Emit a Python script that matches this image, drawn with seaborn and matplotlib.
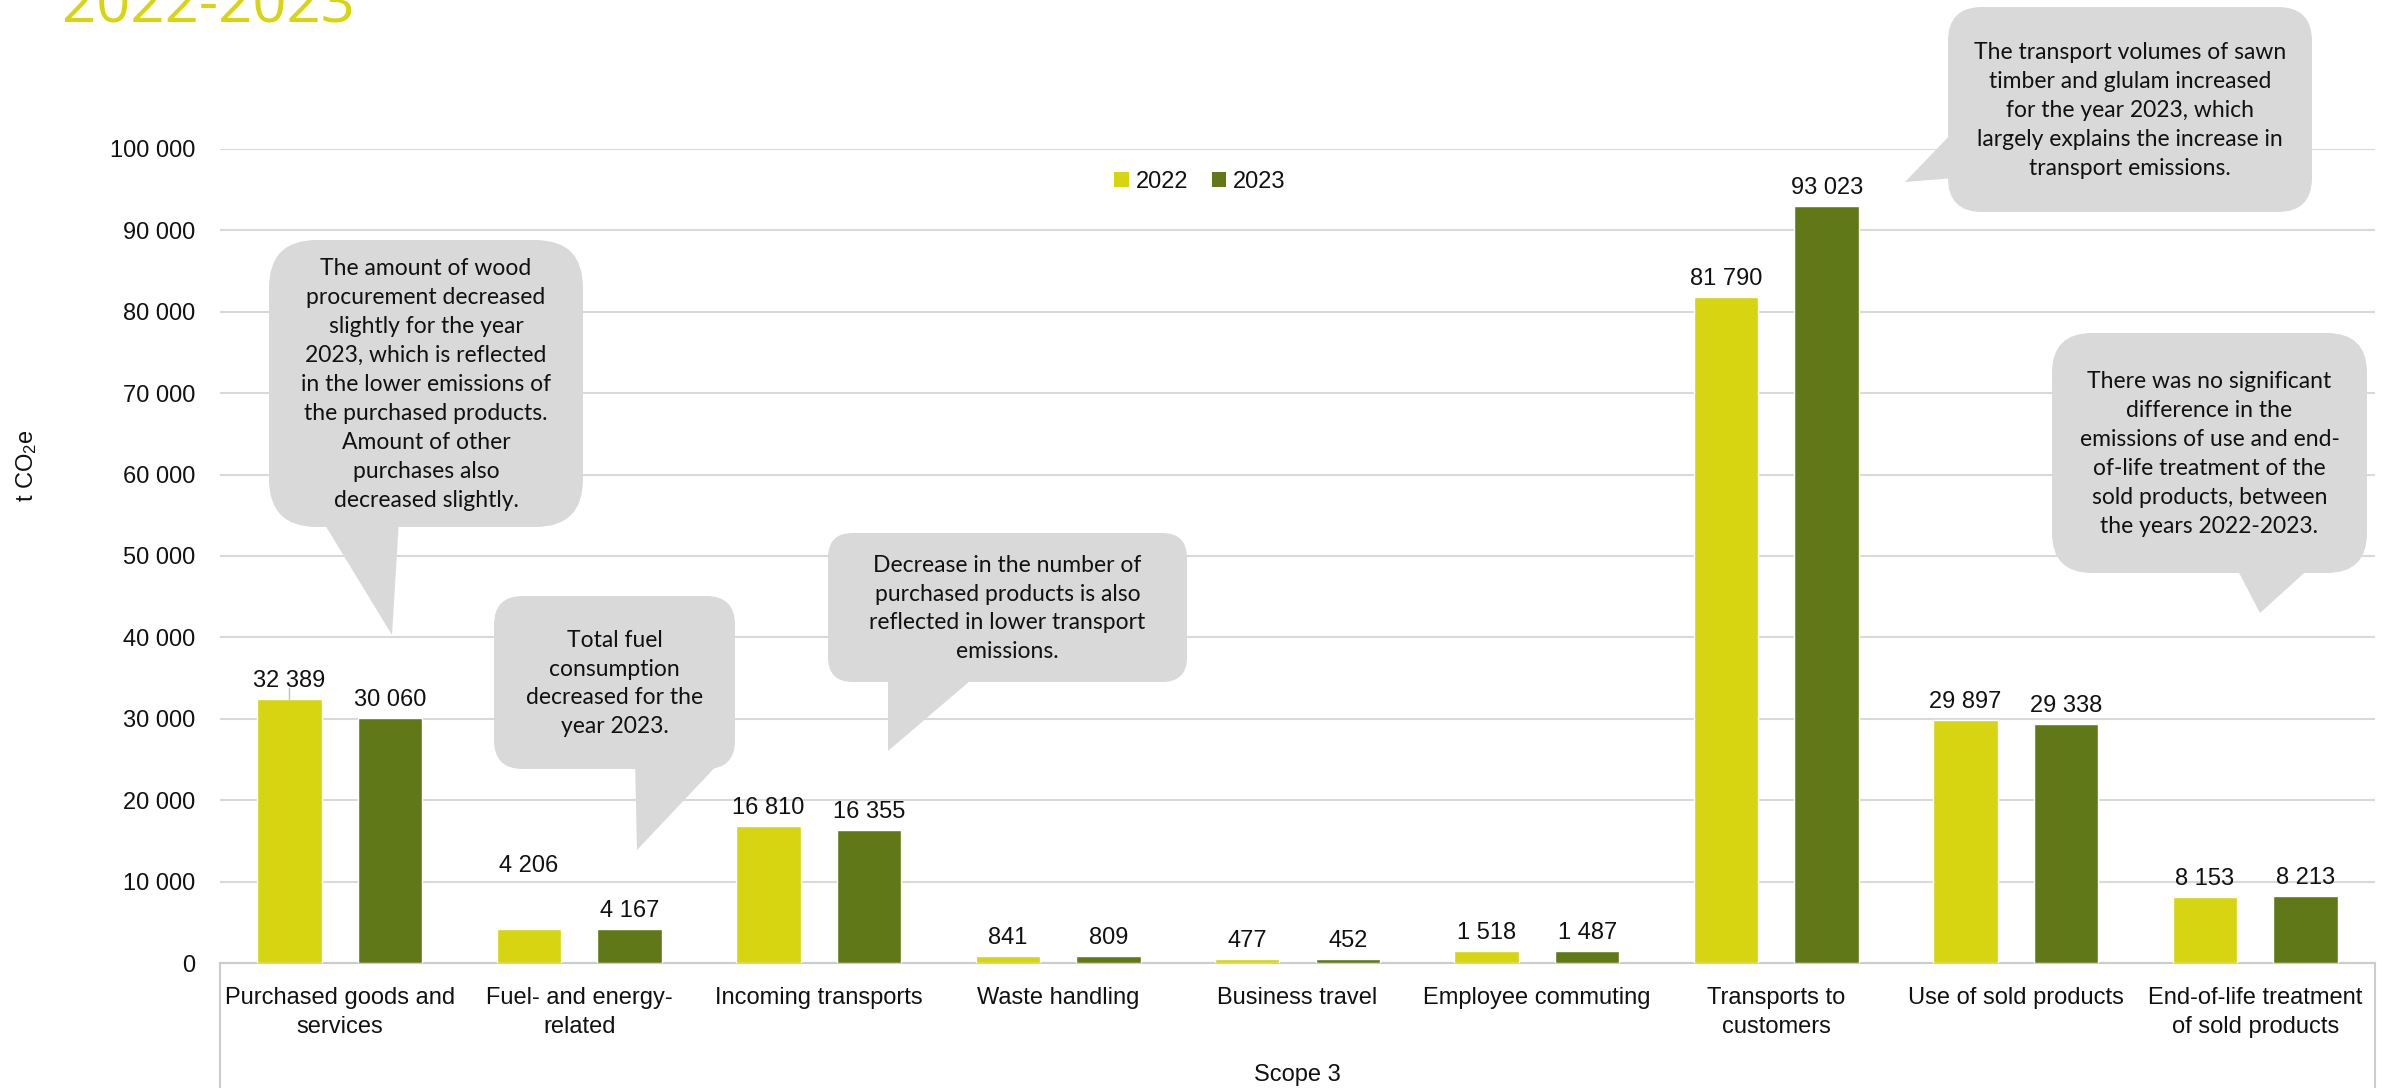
import matplotlib
matplotlib.use("Agg")
import matplotlib.pyplot as plt
import pandas as pd
import seaborn as sns
from matplotlib.patches import FancyBboxPatch, Polygon, Patch
from matplotlib.transforms import Affine2D
from matplotlib.lines import Line2D

# ---- data -------------------------------------------------------------
categories = [
    "Purchased goods and\nservices",
    "Fuel- and energy-\nrelated",
    "Incoming transports",
    "Waste handling",
    "Business travel",
    "Employee commuting",
    "Transports to\ncustomers",
    "Use of sold products",
    "End-of-life treatment\nof sold products",
]
years = ["2022", "2023"]
emissions_2022 = [32389, 4206, 16810, 841, 477, 1518, 81790, 29897, 8153]
emissions_2023 = [30060, 4167, 16355, 809, 452, 1487, 93023, 29338, 8213]
y_ticks = [0, 10000, 20000, 30000, 40000, 50000, 60000, 70000, 80000, 90000, 100000]
group_label = "Scope 3"
y_label = "t CO$_2$e"
title = "2022-2023"

note_texts = [
    "The amount of wood\nprocurement decreased\nslightly for the year\n2023, which is reflected\n"
    "in the lower emissions of\nthe purchased products.\nAmount of other\npurchases also\ndecreased slightly.",
    "Total fuel\nconsumption\ndecreased for the\nyear 2023.",
    "Decrease in the number of\npurchased products is also\nreflected in lower transport\nemissions.",
    "The transport volumes of sawn\ntimber and glulam increased\nfor the year 2023, which\n"
    "largely explains the increase in\ntransport emissions.",
    "There was no significant\ndifference in the\nemissions of use and end-\nof-life treatment of the\n"
    "sold products, between\nthe years 2022-2023.",
]

# ---- styling ----------------------------------------------------------
sns.set_style("white")
plt.rcParams["font.family"] = ["Liberation Sans", "DejaVu Sans"]
plt.rcParams["mathtext.fontset"] = "custom"
plt.rcParams["mathtext.rm"] = "Liberation Sans"
plt.rcParams["mathtext.it"] = "Liberation Sans:italic"
plt.rcParams["mathtext.bf"] = "Liberation Sans:bold"
plt.rcParams["mathtext.default"] = "regular"

LIME = "#d7d511"
OLIVE = "#607818"
GRID = "#d9d9d9"
AXIS = "#cccccc"
BUBBLE = "#d9d9d9"
INK = "#111111"
FS = 17

W, H = 2392, 1088
fig = plt.figure(figsize=(W / 100, H / 100), dpi=100)
fig.patch.set_facecolor("white")

# plot area in pixels (left, top, right, bottom)
px_l, px_t, px_r, px_b = 220, 149, 2375, 963
ax = fig.add_axes([px_l / W, 1 - px_b / H, (px_r - px_l) / W, (px_b - px_t) / H])

df = pd.DataFrame({
    "category": categories * 2,
    "year": [years[0]] * len(categories) + [years[1]] * len(categories),
    "value": emissions_2022 + emissions_2023,
})

sns.barplot(
    data=df, x="category", y="value", hue="year", hue_order=years,
    palette=[LIME, OLIVE], width=0.84, gap=0.36, saturation=1,
    legend=False, ax=ax, zorder=3,
)

ax.set_ylim(0, 100000)
ax.set_xlim(-0.5, len(categories) - 0.5)
ax.set_yticks(y_ticks)
ax.set_yticklabels([f"{v:,}".replace(",", " ") for v in y_ticks])
ax.yaxis.grid(True, color=GRID, linewidth=1.5)
ax.set_axisbelow(True)
for side in ("top", "left", "right"):
    ax.spines[side].set_visible(False)
ax.spines["bottom"].set_color(AXIS)
ax.spines["bottom"].set_linewidth(1.5)
ax.tick_params(axis="y", length=0, pad=18, labelsize=FS, labelcolor=INK)
ax.tick_params(axis="x", length=0, pad=17, labelsize=FS, labelcolor=INK)
for lbl in ax.get_xticklabels():
    lbl.set_linespacing(1.45)
    lbl.set_multialignment("center")

ax.set_xlabel("")
ax.set_ylabel(y_label, fontsize=FS, color=INK)
ax.yaxis.set_label_coords(-0.084, 0.611)

# category box lines below the axis
for xa in (0.0, 1.0):
    ax.add_line(Line2D([xa, xa], [0, -0.3], transform=ax.transAxes,
                       color=AXIS, linewidth=1.5, clip_on=False))
ax.text(0.5, -0.137, group_label, transform=ax.transAxes, ha="center",
        va="center", fontsize=FS, color=INK)

# value labels
for container in ax.containers:
    labels = [f"{v:,.0f}".replace(",", " ") for v in container.datavalues]
    ax.bar_label(container, labels=labels, padding=5, fontsize=FS, color=INK)
# the fuel 2022 label sits higher than the rest
for t in ax.texts:
    if t.get_text() == "4 206":
        x, y = t.xyann
        t.xyann = (x, y + 32)

# short leader line under the first value label
first = ax.containers[0].patches[0]
cx = first.get_x() + first.get_width() / 2
top = first.get_height()
ax.add_line(Line2D([cx, cx], [top, top + 1400], color="#bfbfbf", linewidth=1.0,
                   zorder=4))

# legend
handles = [Patch(facecolor=c, edgecolor="none") for c in (LIME, OLIVE)]
fig.legend(handles, years, loc="center", bbox_to_anchor=(1200 / W, 1 - 182 / H),
           ncol=2, frameon=False, fontsize=FS, handlelength=0.6, handleheight=0.6,
           handletextpad=0.3, columnspacing=1.0, labelcolor=INK)

# title
fig.text(62 / W, 1 - 22.7 / H, title, ha="left", va="baseline",
         fontsize=43, color=LIME, family=["Open Sans", "DejaVu Sans"])

# ---- callouts (pixel layout, origin top-left) -------------------------
px_tr = Affine2D().scale(1 / W, -1 / H).translate(0, 1) + fig.transFigure
callout_boxes = [
    (269, 240, 583, 527),
    (494, 596, 735, 769),
    (828, 533, 1187, 682),
    (1948, 7, 2312, 212),
    (2052, 333, 2367, 573),
]
callout_tails = [
    [(322, 520), (399, 520), (392, 635)],
    [(635, 760), (722, 760), (637, 850)],
    [(888, 675), (977, 675), (888, 751)],
    [(1955, 130), (1955, 178), (1905, 182)],
    [(2235, 565), (2313, 565), (2260, 613)],
]
for (x0, y0, x1, y1), tail, txt in zip(callout_boxes, callout_tails, note_texts):
    r = 0.1667 * min(x1 - x0, y1 - y0)
    box = FancyBboxPatch((x0, y0), x1 - x0, y1 - y0,
                         boxstyle=f"round,pad=0,rounding_size={r}",
                         facecolor=BUBBLE, edgecolor="none",
                         transform=px_tr, zorder=5)
    fig.add_artist(box)
    fig.add_artist(Polygon(tail, closed=True, facecolor=BUBBLE, edgecolor="none",
                           transform=px_tr, zorder=5))
    fig.text((x0 + x1) / 2, (y0 + y1) / 2 + 1, txt, transform=px_tr, ha="center",
             va="center", multialignment="center", fontsize=16.5, linespacing=1.47,
             color=INK, family=["Lato", "DejaVu Sans"], zorder=6)

fig.savefig("out.png", dpi=100, facecolor="white")
